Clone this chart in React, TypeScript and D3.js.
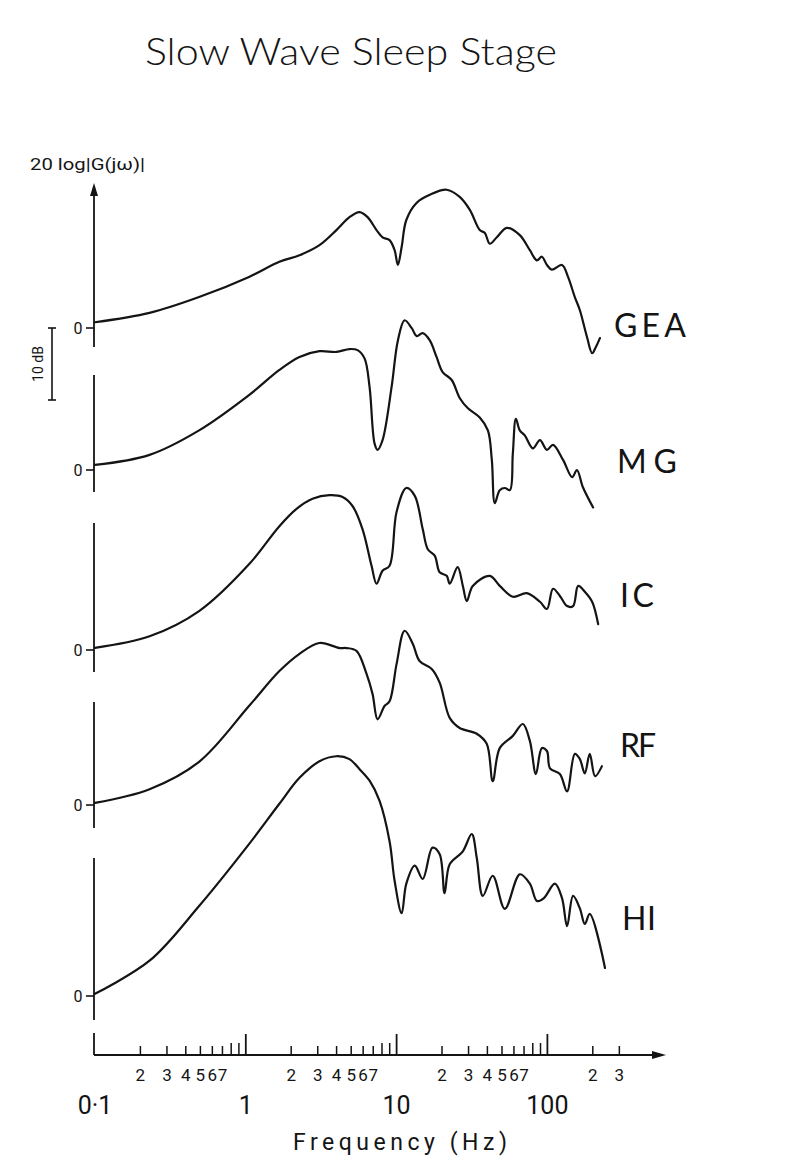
import React from "react";
import * as d3 from "d3";

// ---------- DATA ----------
const seriesNames = ["GEA", "MG", "IC", "RF", "HI"];

const geaFreq = [0.1, 0.23, 0.49, 1.05, 1.67, 2.27, 3.08, 3.99, 4.87, 5.68, 6.42, 7.36, 8.07, 8.98, 9.7, 10.2, 10.8, 11.6, 13.6, 16.6, 21.5, 26.2, 30.6, 35.6, 38.5, 41.5, 46.2, 53.8, 65.6, 76.5, 85.2, 91.9, 99.3, 107, 125, 137, 152, 164, 183, 198, 210, 223];
const geaDb = [0.8, 2.1, 4.3, 7.1, 9.2, 10.1, 11.5, 13.6, 15.4, 16.1, 15.4, 13.6, 12.6, 12.2, 10.8, 8.75, 11.25, 15.0, 17.4, 18.5, 19.2, 18.2, 16.4, 13.6, 13.2, 11.7, 12.6, 13.9, 12.9, 10.8, 9.4, 9.9, 8.75, 8.1, 8.75, 7.1, 4.3, 2.5, -1.25, -3.5, -2.6, -1.4];

const mgFreq = [0.1, 0.23, 0.49, 1.05, 1.67, 2.27, 3.08, 3.99, 4.87, 5.51, 6.13, 6.62, 7.14, 7.48, 8.07, 9.26, 10.2, 11.3, 12.6, 13.6, 14.9, 16.6, 18.4, 20.2, 23.2, 26.2, 29.6, 35.6, 40.3, 42.8, 44.8, 48.3, 52.2, 56.4, 59.0, 61.8, 65.6, 70.8, 80.1, 89.2, 99.3, 109, 127, 146, 157, 172, 201];
const mgDb = [0.7, 2.1, 5.5, 10.4, 13.9, 15.7, 16.5, 16.4, 16.8, 16.65, 15.5, 11.5, 3.7, 2.8, 4.15, 11.5, 18.0, 20.8, 19.7, 18.6, 19.0, 18.0, 15.7, 13.6, 12.5, 10.0, 8.6, 7.3, 5.5, 1.4, -4.6, -2.8, -2.5, -2.8, 2.3, 7.1, 5.5, 4.8, 3.0, 4.15, 2.8, 3.5, 1.4, -1.0, 0.0, -2.4, -5.2];

const icFreq = [0.1, 0.23, 0.49, 1.05, 1.67, 2.17, 2.77, 3.59, 4.38, 5.10, 5.94, 6.82, 7.36, 8.07, 8.98, 10.0, 11.6, 13.2, 14.9, 16.1, 17.9, 19.3, 21.5, 22.5, 25.4, 27.5, 29.2, 32.0, 41.5, 48.3, 59.0, 73.1, 89.2, 99.3, 109, 121, 135, 148, 160, 177, 198, 217];
const icDb = [0.3, 1.9, 5.4, 11.9, 17.2, 19.6, 21.0, 21.5, 21.25, 20.0, 16.8, 11.7, 9.2, 11.0, 11.7, 19.2, 22.5, 21.4, 16.8, 14.0, 13.1, 10.8, 10.3, 9.2, 11.5, 8.9, 6.8, 8.9, 10.3, 8.9, 7.4, 7.9, 6.7, 5.7, 8.5, 7.5, 6.1, 6.1, 8.9, 8.1, 6.7, 3.6];

const rfFreq = [0.1, 0.23, 0.49, 1.05, 1.67, 2.27, 3.08, 4.18, 4.65, 5.42, 6.32, 6.93, 7.48, 8.32, 8.98, 10.0, 11.3, 12.8, 14.2, 17.1, 19.3, 22.5, 26.2, 34.0, 39.6, 43.4, 48.3, 59.0, 68.7, 76.5, 83.9, 91.9, 99.3, 104, 121, 135, 152, 164, 177, 191, 207, 230];
const rfDb = [0.3, 2.2, 6.0, 13.75, 18.6, 21.0, 22.5, 21.8, 21.8, 21.4, 18.2, 15.4, 11.9, 13.75, 14.4, 19.6, 24.2, 22.4, 20.0, 18.9, 17.0, 12.1, 10.7, 9.9, 8.5, 3.3, 7.9, 9.6, 11.25, 8.9, 4.3, 7.9, 7.5, 5.1, 4.3, 1.9, 7.1, 6.4, 4.4, 7.1, 4.0, 5.4];

const hiFreq = [0.1, 0.23, 0.49, 1.05, 1.67, 2.27, 3.08, 3.99, 4.87, 5.68, 6.62, 7.71, 8.98, 9.7, 10.8, 11.6, 13.2, 14.9, 17.3, 19.3, 20.8, 22.5, 27.5, 31.5, 34.0, 37.3, 43.4, 52.2, 65.6, 76.5, 85.2, 94.8, 112, 125, 135, 148, 164, 177, 191, 241];
const hiDb = [0.3, 4.9, 12.5, 21.1, 26.7, 30.3, 32.6, 33.3, 32.9, 31.5, 29.9, 27.1, 21.5, 16.0, 11.5, 15.6, 18.1, 16.25, 20.6, 19.7, 14.3, 18.3, 20.1, 22.5, 19.2, 13.9, 16.7, 12.1, 16.9, 15.6, 13.2, 13.6, 15.6, 13.6, 9.7, 13.9, 12.2, 10.0, 11.4, 3.9];

const majorTicks = [1, 10, 100];
const majorLabels = ["0·1", "1", "10", "100"];
const majorLabelValues = [0.1, 1, 10, 100];
const minorTicks = [0.2, 0.3, 0.4, 0.5, 0.6, 0.7, 0.8, 0.9, 2, 3, 4, 5, 6, 7, 8, 9, 20, 30, 40, 50, 60, 70, 80, 90, 200, 300];
const minorLabelValues = [0.2, 0.3, 0.4, 0.5, 0.6, 0.7, 2, 3, 4, 5, 6, 7, 20, 30, 40, 50, 60, 70, 200, 300];

// ---------- LAYOUT ----------
const W = 787;
const H = 1160;
const AXIS_X = 94;
const X_AXIS_Y = 1055;
const PX_PER_DB = 7.2;
const panelZero = [328, 470, 650, 805, 996];
const axisSegments = [[183, 347], [375, 492], [523, 672], [702, 828], [858, 1020]];
const labelPos = [[614, 337], [617, 473], [620, 607], [620, 757], [622, 930]];
const labelWidth = [72, 60, 34, 36, 34];

const x = d3.scaleLog().domain([0.1, 100]).range([95, 547.4]);

const freqs = [geaFreq, mgFreq, icFreq, rfFreq, hiFreq];
const dbs = [geaDb, mgDb, icDb, rfDb, hiDb];

const yScales = panelZero.map((z) =>
  d3.scaleLinear().domain([0, 10]).range([z, z - 10 * PX_PER_DB])
);

const lineFont = "Roboto, 'DejaVu Sans', sans-serif";

export default function App() {
  const ink = "#141414";
  return (
    <svg width={W} height={H} style={{ display: "block", position: "absolute", left: 0, top: 0, background: "#fff" }}>
      <rect x={0} y={0} width={W} height={H} fill="#fff" />
      {/* title */}
      <text x={145} y={65} fontFamily="Lato, 'Open Sans', sans-serif" fontSize={37} fontWeight={300}
        textLength={412} lengthAdjust="spacingAndGlyphs" fill={ink}>
        Slow Wave Sleep Stage
      </text>

      {/* y label */}
      <text x={30} y={170} fontFamily={lineFont} fontSize={16} textLength={115}
        lengthAdjust="spacingAndGlyphs" fill={ink}>
        20 log|G(jω)|
      </text>

      {/* y axis segments */}
      {axisSegments.map((s, i) => (
        <line key={"seg" + i} x1={AXIS_X} x2={AXIS_X} y1={i === 0 ? s[0] + 6 : s[0]} y2={s[1]}
          stroke={ink} strokeWidth={1.8} />
      ))}
      <path d={`M${AXIS_X},${axisSegments[0][0]} L${AXIS_X - 4},${axisSegments[0][0] + 13} L${AXIS_X + 4},${axisSegments[0][0] + 13} Z`} fill={ink} />

      {/* zero ticks and labels */}
      {panelZero.map((z, i) => (
        <g key={"zero" + i}>
          <line x1={AXIS_X - 8} x2={AXIS_X} y1={yScales[i](0)} y2={yScales[i](0)} stroke={ink} strokeWidth={1.6} />
          <text x={78} y={yScales[i](0) + 6} textAnchor="middle" fontFamily={lineFont} fontSize={16} fill={ink}>0</text>
        </g>
      ))}

      {/* 10 dB scale bar */}
      {(() => {
        const y1 = yScales[0](0);
        const y2 = yScales[0](-10);
        return (
          <g>
            <line x1={52} x2={52} y1={y1} y2={y2} stroke={ink} strokeWidth={1.6} />
            <line x1={48} x2={56} y1={y1} y2={y1} stroke={ink} strokeWidth={1.6} />
            <line x1={48} x2={56} y1={y2} y2={y2} stroke={ink} strokeWidth={1.6} />
            <text transform={`translate(43,${(y1 + y2) / 2}) rotate(-90)`} textAnchor="middle"
              fontFamily={lineFont} fontSize={14} fill={ink}>10 dB</text>
          </g>
        );
      })()}

      {/* curves */}
      {freqs.map((fs, i) => {
        const pts: [number, number][] = fs.map((f, j) => [x(f), yScales[i](dbs[i][j])]);
        const gen = d3.line().curve(d3.curveCatmullRom.alpha(0.5));
        return (
          <path key={"c" + i} d={gen(pts) || ""} fill="none" stroke={ink} strokeWidth={2.2}
            strokeLinejoin="round" strokeLinecap="round" />
        );
      })}

      {/* series labels */}
      {seriesNames.map((n, i) => (
        <text key={"l" + i} x={labelPos[i][0]} y={labelPos[i][1]} fontFamily="Lato, 'Open Sans', sans-serif"
          fontSize={32} textLength={labelWidth[i]} lengthAdjust="spacing" fill={ink}>{n}</text>
      ))}

      {/* x axis */}
      <line x1={AXIS_X} x2={658} y1={X_AXIS_Y} y2={X_AXIS_Y} stroke={ink} strokeWidth={1.8} />
      <path d={`M666,${X_AXIS_Y} L652,${X_AXIS_Y - 4} L652,${X_AXIS_Y + 4} Z`} fill={ink} />
      <line x1={AXIS_X} x2={AXIS_X} y1={1033} y2={X_AXIS_Y} stroke={ink} strokeWidth={1.8} />
      {majorTicks.map((t) => (
        <line key={"M" + t} x1={x(t)} x2={x(t)} y1={X_AXIS_Y - 21} y2={X_AXIS_Y} stroke={ink} strokeWidth={1.8} />
      ))}
      {minorTicks.map((t) => {
        const d = Math.round(t / Math.pow(10, Math.floor(Math.log10(t) + 1e-9)));
        const h = d >= 8 ? 12 : 9;
        return <line key={"m" + t} x1={x(t)} x2={x(t)} y1={X_AXIS_Y - h} y2={X_AXIS_Y + 1} stroke={ink} strokeWidth={1.5} />;
      })}
      {minorLabelValues.map((t) => {
        const d = Math.round(t / Math.pow(10, Math.floor(Math.log10(t) + 1e-9)));
        return (
          <text key={"ml" + t} x={x(t)} y={1081} textAnchor="middle" fontFamily={lineFont} fontSize={17} fill={ink}>{d}</text>
        );
      })}
      {majorLabelValues.map((t, i) => (
        <text key={"Ml" + t} x={x(t)} y={1114} textAnchor="middle" fontFamily={lineFont} fontSize={25} fill={ink}>{majorLabels[i]}</text>
      ))}
      <text x={293} y={1150} fontFamily={lineFont} fontSize={23} textLength={214} lengthAdjust="spacing" fill={ink}>
        Frequency  (Hz)
      </text>
    </svg>
  );
}
